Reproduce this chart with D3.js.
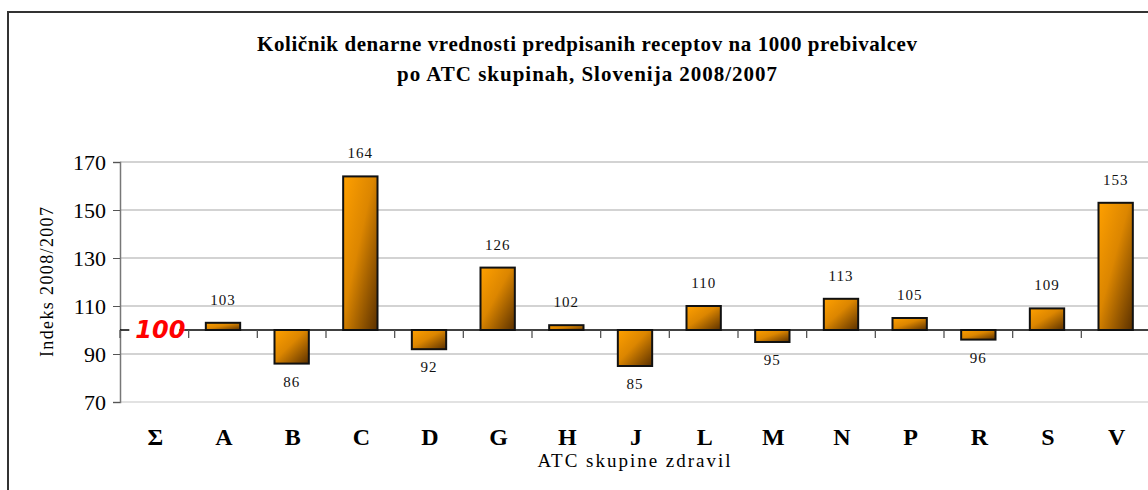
<!DOCTYPE html>
<html><head><meta charset="utf-8">
<script src="https://cdn.jsdelivr.net/npm/d3@7"></script>
<style>body{margin:0;background:#fff}svg{display:block}</style>
</head><body><svg id="c" width="1148" height="490"></svg>
<script>
const categories = ["Σ","A","B","C","D","G","H","J","L","M","N","P","R","S","V"];
const values = [100,103,86,164,92,126,102,85,110,95,113,105,96,109,153];
const yTicks = [70,90,110,130,150,170];
const titleLines = ["Količnik denarne vrednosti predpisanih receptov na 1000 prebivalcev","po ATC skupinah, Slovenija  2008/2007"];
const baseValue = 100;

const svg = d3.select("#c");
const serif = "'Liberation Serif','Times New Roman',serif";
const L = 120, R = 1150, T = 162, B = 402;

const defs = svg.append("defs");
const g = defs.append("linearGradient").attr("id","bg").attr("x1",0).attr("y1",0).attr("x2",1).attr("y2",1);
g.append("stop").attr("offset","0%").attr("stop-color","#ffa000");
g.append("stop").attr("offset","45%").attr("stop-color","#dc8600");
g.append("stop").attr("offset","100%").attr("stop-color","#5a3000");

svg.append("rect").attr("x",8).attr("y",12).attr("width",1160).attr("height",500)
  .attr("fill","none").attr("stroke","#333").attr("stroke-width",2);

svg.append("text").attr("x",587).attr("y",51).attr("text-anchor","middle")
  .attr("font-family",serif).attr("font-weight","bold").attr("font-size",21)
  .attr("textLength",660).attr("lengthAdjust","spacing").text(titleLines[0]);
svg.append("text").attr("x",587).attr("y",81).attr("text-anchor","middle")
  .attr("font-family",serif).attr("font-weight","bold").attr("font-size",21)
  .attr("textLength",380).attr("lengthAdjust","spacing").text(titleLines[1]);

const x = d3.scaleBand().domain(categories).range([L,R]).paddingInner(0).paddingOuter(0);
const y = d3.scaleLinear().domain([70,170]).range([B,T]);

// grid
svg.append("g").selectAll("line").data(yTicks).join("line")
  .attr("x1",L).attr("x2",R).attr("y1",d=>y(d)).attr("y2",d=>y(d))
  .attr("stroke",d=>d===70?"#d8d8d8":"#c4c4c4").attr("stroke-width",1.5);

// y axis
const ya = svg.append("g").attr("transform",`translate(${L},0)`)
  .call(d3.axisLeft(y).tickValues(yTicks).tickSize(7).tickPadding(7).tickFormat(d3.format("d")));
ya.select(".domain").attr("stroke","#777").attr("stroke-width",1.5);
ya.selectAll(".tick line").attr("stroke","#555");
ya.selectAll("text").attr("font-family",serif).attr("font-size",22).attr("fill","#000");

svg.append("text").attr("transform",`translate(53,282) rotate(-90)`).attr("text-anchor","middle")
  .attr("font-family",serif).attr("font-size",18).attr("textLength",150).attr("lengthAdjust","spacing")
  .text("Indeks 2008/2007");

// baseline axis at 100
const y0 = y(baseValue);
svg.append("line").attr("x1",L).attr("x2",R).attr("y1",y0).attr("y2",y0).attr("stroke","#000").attr("stroke-width",1.3);
const bounds = categories.map(c=>x(c));
svg.append("g").selectAll("line").data(bounds).join("line")
  .attr("x1",d=>d).attr("x2",d=>d).attr("y1",y0).attr("y2",y0+8).attr("stroke","#555").attr("stroke-width",1.3);

// bars
const bw = x.bandwidth()*0.5;
const data = categories.map((c,i)=>({c,v:values[i]}));
svg.append("g").selectAll("rect").data(data.filter(d=>d.v!==baseValue)).join("rect")
  .attr("x",d=>x(d.c)+x.bandwidth()/2-bw/2)
  .attr("y",d=>Math.min(y(d.v),y0))
  .attr("width",bw)
  .attr("height",d=>Math.abs(y(d.v)-y0))
  .attr("fill","url(#bg)").attr("stroke","#111").attr("stroke-width",2);

// value labels
svg.append("g").selectAll("text").data(data.filter(d=>d.v!==baseValue)).join("text")
  .attr("x",d=>x(d.c)+x.bandwidth()/2)
  .attr("y",d=>d.v>baseValue? y(d.v)-18 : y(d.v)+23)
  .attr("text-anchor","middle").attr("font-family",serif).attr("font-size",15).attr("fill","#111")
  .attr("letter-spacing",1).text(d=>d.v);

// red base label
const sx = x(categories[0])+x.bandwidth()/2;
svg.append("rect").attr("x",sx-25).attr("y",y0-12).attr("width",50).attr("height",24).attr("fill","#fff");
svg.append("text").attr("x",sx+6).attr("y",y0+8).attr("text-anchor","middle")
  .attr("font-family","'DejaVu Sans',Verdana,sans-serif").attr("font-weight","bold").attr("font-style","italic")
  .attr("font-size",24).attr("fill","#ff0000").text(baseValue);

// category labels
svg.append("g").selectAll("text").data(categories).join("text")
  .attr("x",d=>x(d)+x.bandwidth()/2+1).attr("y",445).attr("text-anchor","middle")
  .attr("font-family",serif).attr("font-weight","bold").attr("font-size",24).text(d=>d);

svg.append("text").attr("x",634).attr("y",467).attr("text-anchor","middle")
  .attr("font-family",serif).attr("font-size",19).attr("textLength",193).attr("lengthAdjust","spacing")
  .text("ATC skupine zdravil");
</script></body></html>
